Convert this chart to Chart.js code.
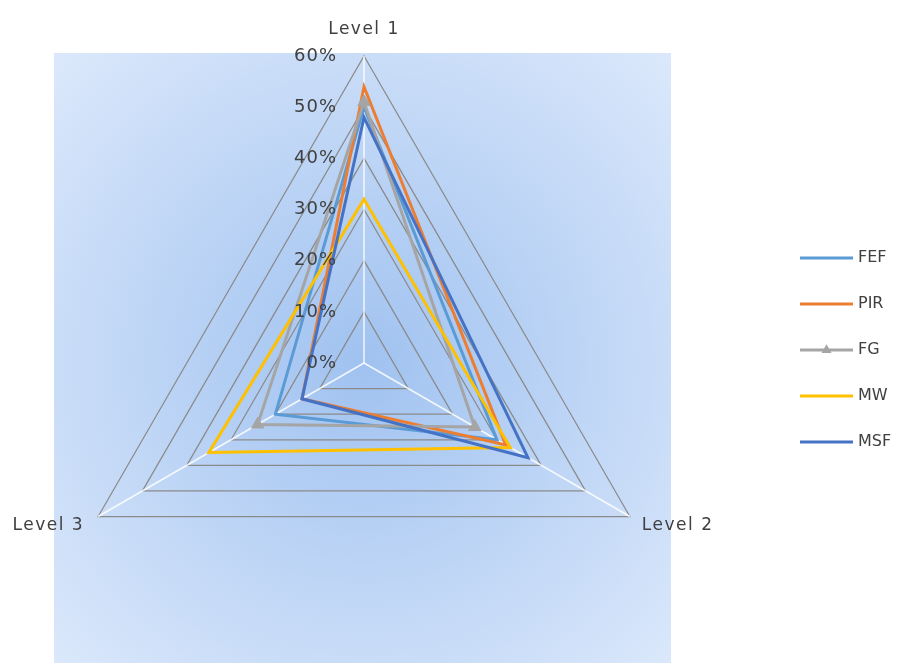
<!DOCTYPE html>
<html>
<head>
<meta charset="utf-8">
<script src="https://cdn.jsdelivr.net/npm/chart.js@4.4.0/dist/chart.umd.min.js"></script>
<style>
  html, body { margin: 0; padding: 0; background: #fff; overflow: hidden; }
  #wrap { width: 905px; height: 700px; }
</style>
</head>
<body>
<div id="wrap"><canvas id="radar"></canvas></div>
<script>
const levels = ['Level 1', 'Level 2', 'Level 3'];
const seriesNames = ['FEF', 'PIR', 'FG', 'MW', 'MSF'];
const fef = [50, 30, 20];
const pir = [54, 32, 14];
const fg = [51, 25, 24];
const mw = [32, 33, 35];
const msf = [48, 37, 14];
const tickLabels = ['0%', '10%', '20%', '30%', '40%', '50%', '60%'];

const colors = ['#5B9BD5', '#ED7D31', '#A5A5A5', '#FFC000', '#4472C4'];
const values = [fef, pir, fg, mw, msf];

const textColor = '#404040';

// plot area background (radial light blue)
const backdrop = {
  id: 'backdrop',
  beforeDraw(chart) {
    const ctx = chart.ctx;
    const s = chart.scales.r;
    ctx.save();
    ctx.fillStyle = '#fff';
    ctx.fillRect(0, 0, chart.width, chart.height);
    const g = ctx.createRadialGradient(s.xCenter, s.yCenter, 0, s.xCenter, s.yCenter, 430);
    g.addColorStop(0, 'rgb(160,194,240)');
    g.addColorStop(1, 'rgb(219,232,251)');
    ctx.fillStyle = g;
    ctx.fillRect(54, 53, 617, chart.height - 53);
    ctx.restore();
  }
};

// tick labels to the left of the first axis, axis names at the corners
const labels = {
  id: 'labels',
  afterDatasetsDraw(chart) {
    const ctx = chart.ctx;
    const s = chart.scales.r;
    ctx.save();
    ctx.fillStyle = textColor;
    ctx.font = '18px "DejaVu Sans"';
    ctx.letterSpacing = '1px';
    ctx.textAlign = 'right';
    ctx.textBaseline = 'middle';
    s.ticks.forEach((t, i) => {
      const y = s.yCenter - s.getDistanceFromCenterForValue(t.value);
      ctx.fillText(tickLabels[i], s.xCenter - 27, y);
    });

    ctx.font = '17px "DejaVu Sans"';
    ctx.letterSpacing = '1.5px';
    ctx.textBaseline = 'alphabetic';
    levels.forEach((name, i) => {
      const p = s.getPointPosition(i, s.drawingArea);
      if (i === 0) {
        ctx.textAlign = 'center';
        ctx.fillText(name, p.x, p.y - 22);
      } else if (p.x > s.xCenter) {
        ctx.textAlign = 'left';
        ctx.fillText(name, p.x + 12, p.y + 13);
      } else {
        ctx.textAlign = 'right';
        ctx.fillText(name, p.x - 14, p.y + 13);
      }
    });
    ctx.restore();
  }
};

// legend on the right
const sideLegend = {
  id: 'sideLegend',
  afterDraw(chart) {
    const ctx = chart.ctx;
    const top = 258, gap = 46, x0 = 800, x1 = 853;
    ctx.save();
    ctx.font = '16px "DejaVu Sans"';
    ctx.textBaseline = 'middle';
    ctx.textAlign = 'left';
    chart.data.datasets.forEach((ds, i) => {
      const y = top + i * gap;
      ctx.strokeStyle = ds.borderColor;
      ctx.lineWidth = 3;
      ctx.beginPath();
      ctx.moveTo(x0, y);
      ctx.lineTo(x1, y);
      ctx.stroke();
      if (ds.pointStyle === 'triangle') {
        const r = ds.pointRadius;
        const cx = (x0 + x1) / 2;
        ctx.fillStyle = ds.pointBackgroundColor;
        ctx.beginPath();
        ctx.moveTo(cx, y - r * 1.15);
        ctx.lineTo(cx + r, y + r * 0.6);
        ctx.lineTo(cx - r, y + r * 0.6);
        ctx.closePath();
        ctx.fill();
      }
      ctx.fillStyle = textColor;
      ctx.fillText(ds.label, x1 + 5, y);
    });
    ctx.restore();
  }
};

const datasets = seriesNames.map((name, i) => ({
  label: name,
  data: values[i],
  borderColor: colors[i],
  backgroundColor: colors[i],
  pointBackgroundColor: colors[i],
  pointBorderColor: colors[i],
  borderWidth: 3,
  fill: false,
  tension: 0,
  pointStyle: name === 'FG' ? 'triangle' : 'circle',
  pointRadius: name === 'FG' ? 5 : 0,
  order: seriesNames.length - i
}));

new Chart(document.getElementById('radar'), {
  type: 'radar',
  data: { labels: levels, datasets: datasets },
  options: {
    responsive: true,
    maintainAspectRatio: false,
    animation: false,
    layout: { padding: { left: 57, right: 234, top: 56, bottom: 30 } },
    plugins: {
      legend: { display: false },
      tooltip: { enabled: false }
    },
    scales: {
      r: {
        min: 0,
        max: 60,
        ticks: { stepSize: 10, display: false },
        pointLabels: { display: false },
        grid: { color: '#8a8a8a', lineWidth: 1.25 },
        angleLines: { color: 'rgba(255,255,255,0.85)', lineWidth: 1.5 }
      }
    }
  },
  plugins: [backdrop, labels, sideLegend]
});
</script>
</body>
</html>
